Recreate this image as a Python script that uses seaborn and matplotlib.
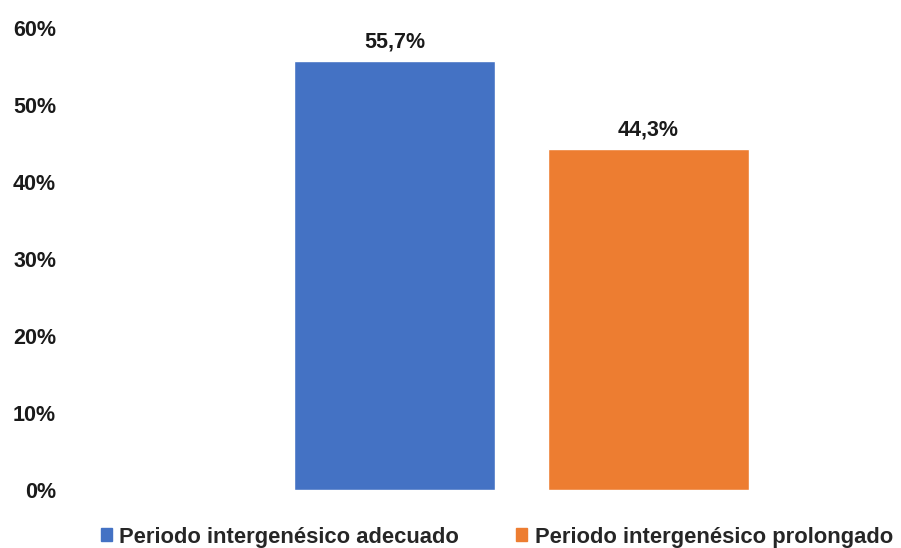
import matplotlib
matplotlib.use("Agg")
import matplotlib.pyplot as plt
import seaborn as sns
import pandas as pd
from matplotlib.ticker import PercentFormatter

categorias = ["Periodo intergenésico adecuado", "Periodo intergenésico prolongado"]
valores = [0.557, 0.443]
colores = ["#4472C4", "#ED7D31"]

sns.set_theme(style="white")
plt.rcParams["font.family"] = ["Liberation Sans", "DejaVu Sans"]
plt.rcParams["font.weight"] = "bold"

df = pd.DataFrame({"categoria": categorias, "valor": valores})

fig = plt.figure(figsize=(9.01, 5.48), dpi=100)
ax = fig.add_axes([70 / 901, 58 / 548, 831 / 901, 462 / 548])

sns.barplot(data=df, x="categoria", y="valor", hue="categoria",
            palette=colores, width=0.79, saturation=1, legend=False, ax=ax)

# etiquetas de datos con coma decimal
for cont, v in zip(ax.containers, valores):
    ax.bar_label(cont, labels=[f"{v*100:.1f}%".replace(".", ",")],
                 padding=6, fontsize=15.5, fontweight="bold", color="#1a1a1a")

ax.set_ylim(0, 0.6)
ax.set_xlim(-1.278, 1.994)
ax.set_yticks([0, 0.1, 0.2, 0.3, 0.4, 0.5, 0.6])
ax.yaxis.set_major_formatter(PercentFormatter(1, decimals=0))
ax.set_xticks([])
ax.set_xlabel("")
ax.set_ylabel("")
ax.tick_params(axis="y", length=0, pad=10, labelsize=15.5, labelcolor="#1a1a1a")
for lab in ax.get_yticklabels():
    lab.set_fontweight("bold")
sns.despine(ax=ax, left=True, bottom=True)

handles = [plt.Rectangle((0, 0), 1, 1, color=c) for c in colores]
fig.legend(handles, categorias, loc="center", bbox_to_anchor=(497 / 901, 1 - 537 / 548),
           ncol=2, frameon=False, handlelength=0.5, handleheight=0.5,
           handletextpad=0.35, columnspacing=2.6, prop={"weight": "bold", "size": 15.8})

fig.savefig("out.png", dpi=100)
